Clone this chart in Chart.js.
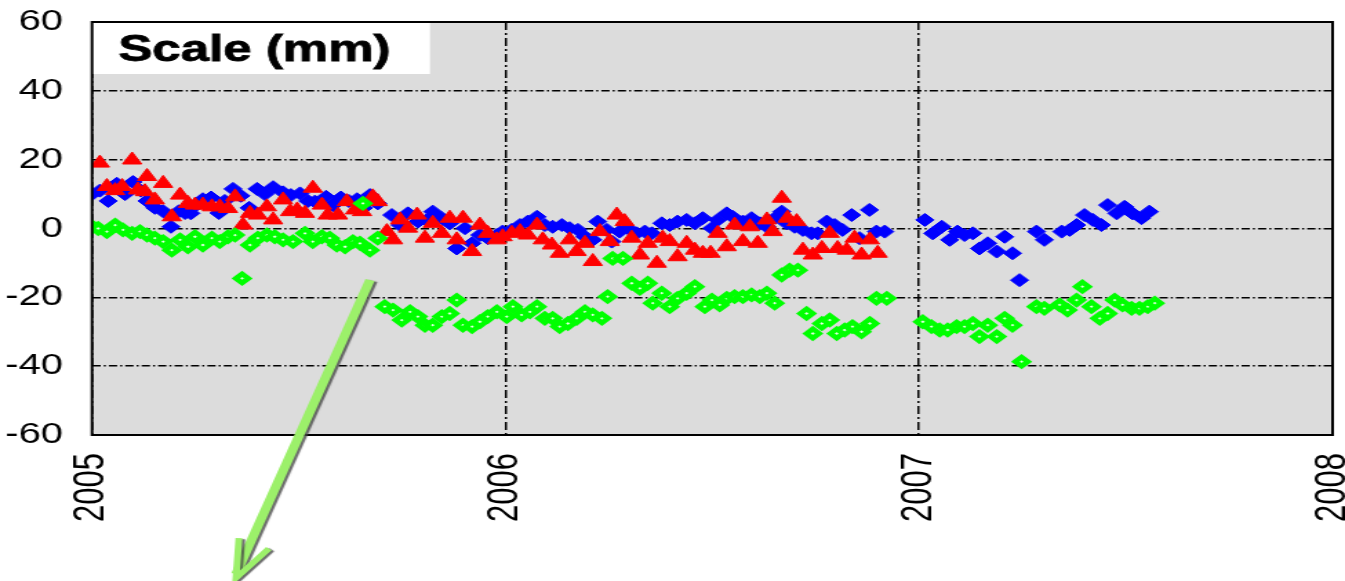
<!DOCTYPE html>
<html><head><meta charset="utf-8">
<script src="https://cdn.jsdelivr.net/npm/chart.js@4.4.1/dist/chart.umd.min.js"></script>
<style>
html,body{margin:0;padding:0;background:#fff;overflow:hidden;}
#wrap{width:1345px;height:581px;overflow:hidden;position:relative;}
#c{display:block;transform-origin:0 0;transform:scaleX(1.37949);}
</style></head><body>
<div id="wrap"><canvas id="c" width="975" height="581"></canvas></div>
<script>
// ---- data (dates as decimal years, values in mm) ----
const xTickYears = [2005, 2006, 2007, 2008];
const yTickValues = [-60, -40, -20, 0, 20, 40, 60];
const titleText = "Scale (mm)";

const blueDates = [
 2005.000,2005.019,2005.039,2005.060,2005.080,2005.099,2005.118,2005.133,2005.152,2005.172,
 2005.191,2005.210,2005.225,2005.239,2005.254,2005.268,2005.288,2005.307,2005.321,2005.341,
 2005.360,2005.380,2005.399,2005.418,2005.438,2005.462,2005.481,2005.503,2005.522,2005.539,
 2005.566,2005.583,2005.602,2005.621,2005.641,2005.657,2005.672,2005.691,2005.725,2005.745,
 2005.764,2005.788,2005.810,2005.824,2005.846,2005.865,2005.882,2005.902,2005.919,2005.938,
 2005.957,2005.979,2005.993,2006.015,2006.035,2006.054,2006.076,2006.095,2006.114,2006.136,
 2006.155,2006.175,2006.192,2006.211,2006.223,2006.245,2006.257,2006.276,2006.296,2006.317,
 2006.337,2006.354,2006.378,2006.397,2006.416,2006.438,2006.458,2006.477,2006.499,2006.513,
 2006.535,2006.549,2006.574,2006.595,2006.615,2006.632,2006.656,2006.668,2006.680,2006.699,
 2006.719,2006.740,2006.755,2006.777,2006.796,2006.815,2006.837,2006.856,2006.880,2006.897,
 2006.917,
 2007.014,2007.033,2007.055,2007.074,2007.093,2007.110,2007.130,2007.146,2007.166,2007.188,
 2007.207,2007.226,2007.243,2007.284,2007.303,2007.345,2007.364,2007.381,2007.400,2007.420,
 2007.441,2007.456,2007.478,2007.497,2007.516,2007.538,2007.557
];
const blueValues = [
 10,11,8,13,10,13.5,11,8,6,5,
 0.5,5,4.5,4.4,7,8.5,9,4.5,8,11.5,
 9.5,6,11.5,10,12,10.5,9.7,10.2,8,7.8,
 9.2,6.8,9,8,8.5,6,9.7,7.3,3.9,1.0,
 4.4,2.0,2.5,4.9,3.0,1.5,-5.8,0.1,-4.3,-1.9,
 -2.8,-1.9,-0.9,-0.4,1.0,2.0,3.4,1.0,0.5,1.0,
 0.1,-0.4,-2.4,-3.3,2.0,-0.4,-3.8,-0.9,0.1,-1.4,
 -0.9,-1.4,1.5,1.0,2.0,2.5,1.5,3.0,0.1,2.5,
 4.4,3.4,2.0,3.0,1.5,0.5,3.4,4.9,1.5,0.5,
 -0.4,-1.4,-1.4,2.0,1.0,-0.4,3.9,-2.8,5.4,-0.9,
 -0.9,
 2.5,-1.4,0.5,-3.3,-0.9,-1.9,-1.4,-5.8,-4.3,-6.7,
 -2.4,-7.2,-15,-0.9,-3.3,-0.9,-0.4,1.0,3.9,2.5,
 1.0,6.8,4.4,6.3,4.4,3.0,4.9
];

const redDates = [
 2005.019,2005.036,2005.056,2005.073,2005.097,2005.111,2005.128,2005.133,2005.152,2005.172,
 2005.193,2005.213,2005.232,2005.249,2005.268,2005.290,2005.309,2005.329,2005.346,2005.365,
 2005.382,2005.401,2005.423,2005.438,2005.462,2005.479,2005.496,2005.515,2005.534,2005.556,
 2005.570,2005.595,2005.616,2005.636,2005.653,2005.679,2005.691,2005.713,2005.728,2005.745,
 2005.764,2005.786,2005.805,2005.824,2005.846,2005.865,2005.882,2005.897,2005.919,2005.938,
 2005.957,2005.979,2005.993,2006.015,2006.035,2006.054,2006.076,2006.090,2006.112,2006.131,
 2006.155,2006.172,2006.192,2006.211,2006.228,2006.252,2006.269,2006.288,2006.305,2006.325,
 2006.344,2006.366,2006.380,2006.397,2006.416,2006.438,2006.458,2006.477,2006.496,2006.513,
 2006.535,2006.554,2006.574,2006.591,2006.610,2006.632,2006.646,2006.668,2006.682,2006.704,
 2006.719,2006.743,2006.765,2006.784,2006.803,2006.825,2006.844,2006.861,2006.881,2006.900
];
const redValues = [
 19.0,12.2,11,12.2,19.9,11.2,10.7,15.1,8.3,13.1,
 3.4,9.7,7.3,6.8,6.8,6.3,6.3,5.8,9.2,1.0,
 4.4,3.9,6.3,2.5,8.3,4.9,5.4,4.4,11.7,6.8,
 3.9,3.9,7.8,5.4,4.9,9.2,7.8,-0.9,-3.3,2.5,
 0.1,3.9,-2.8,1.5,-1.4,3.0,-3.3,3.0,-6.7,1.0,
 -1.4,-3.3,-2.4,-1.4,-0.9,-1.9,1.0,-3.3,-4.8,-7.2,
 -3.3,-6.7,-4.3,-9.6,-0.9,-3.8,3.9,2.0,-2.8,-7.7,
 -4.3,-10.1,-2.8,-3.8,-8.2,-4.3,-6.3,-7.2,-7.2,-1.4,
 -5.3,1.0,-3.8,0.5,-4.3,2.5,-0.9,8.8,3.0,2.0,
 -6.3,-7.7,-5.8,-1.4,-5.8,-6.3,-2.8,-7.7,-3.3,-7.2
];

const greenDates = [
 2005.000,2005.015,2005.036,2005.056,2005.075,2005.097,2005.116,2005.133,2005.152,2005.172,
 2005.193,2005.213,2005.232,2005.249,2005.268,2005.290,2005.309,2005.329,2005.346,2005.363,
 2005.382,2005.401,2005.423,2005.442,2005.462,2005.486,2005.515,2005.534,2005.556,2005.575,
 2005.592,2005.612,2005.631,2005.648,2005.655,2005.672,2005.691,2005.708,2005.728,2005.749,
 2005.769,2005.788,2005.805,2005.824,2005.846,2005.865,2005.882,2005.897,2005.919,2005.938,
 2005.957,2005.979,2006.003,2006.018,2006.039,2006.059,2006.076,2006.095,2006.114,2006.131,
 2006.151,2006.172,2006.192,2006.211,2006.233,2006.247,2006.259,2006.284,2006.305,2006.325,
 2006.344,2006.356,2006.378,2006.397,2006.416,2006.438,2006.458,2006.482,2006.499,2006.518,
 2006.535,2006.554,2006.574,2006.595,2006.615,2006.632,2006.651,2006.668,2006.687,2006.707,
 2006.728,2006.743,2006.765,2006.784,2006.801,2006.820,2006.839,2006.861,2006.881,2006.897,
 2006.922,
 2007.009,2007.030,2007.050,2007.069,2007.091,2007.110,2007.130,2007.146,2007.166,2007.188,
 2007.207,2007.226,2007.248,2007.284,2007.303,2007.340,2007.359,2007.381,2007.395,2007.417,
 2007.437,2007.456,2007.473,2007.492,2007.514,2007.533,2007.553,2007.570
];
const greenValues = [
 0.5,0.0,-0.9,1.0,-0.4,-1.4,-0.9,-1.9,-2.8,-3.8,
 -6.3,-3.3,-5.3,-2.4,-4.8,-2.8,-3.8,-2.4,-1.9,-14.5,
 -4.8,-2.8,-1.9,-2.4,-3.3,-3.8,-1.4,-3.8,-2.4,-2.8,
 -4.8,-5.3,-3.8,-4.3,7.3,-6.3,-2.8,-22.7,-23.7,-26.6,
 -24.2,-25.6,-28.1,-28.1,-25.6,-24.7,-20.8,-28.1,-28.5,-27.1,
 -25.6,-24.2,-25.6,-22.7,-25.1,-24.2,-22.7,-26.1,-26.1,-28.5,
 -27.6,-26.1,-24.2,-25.1,-26.1,-19.8,-8.7,-8.7,-15.9,-17.4,
 -15.9,-21.7,-18.8,-22.7,-20.3,-18.8,-16.9,-22.7,-20.8,-22.2,
 -20.3,-19.8,-19.8,-19.3,-19.8,-18.8,-21.7,-13.5,-12.1,-12.1,
 -24.7,-30.5,-27.6,-26.6,-30.5,-29.5,-28.5,-30.0,-27.6,-20.3,
 -20.3,
 -27.1,-28.5,-29.5,-29.5,-28.5,-28.5,-27.6,-31.4,-28.1,-31.4,
 -26.1,-28.1,-38.7,-22.7,-23.2,-22.2,-23.7,-20.8,-16.9,-22.7,
 -26.1,-24.7,-20.8,-22.2,-23.2,-23.2,-22.7,-21.7
];

const toPoints = (xs, ys) => xs.map((x, i) => ({ x: x, y: ys[i] }));

// ---- rendering ----
const STRETCH = 1345 / 975;
const FONT = '"Liberation Sans", Arial, Helvetica, sans-serif';

const decor = {
  id: 'decor',
  beforeDraw(chart) {
    const { ctx, chartArea: a } = chart;
    ctx.save();
    ctx.fillStyle = '#dcdcdc';
    ctx.fillRect(a.left, a.top, a.right - a.left, a.bottom - a.top);
    ctx.restore();
  },
  beforeDatasetsDraw(chart) {
    const { ctx, chartArea: a } = chart;
    ctx.save();
    ctx.fillStyle = '#ffffff';
    ctx.fillRect(a.left, a.top, 245, 52);
    ctx.fillStyle = '#000';
    ctx.font = 'bold 37px ' + FONT;
    ctx.textBaseline = 'alphabetic';
    ctx.lineWidth = 0.8;
    ctx.strokeStyle = '#000';
    ctx.fillText(titleText, a.left + 19, a.top + 39);
    ctx.strokeText(titleText, a.left + 19, a.top + 39);
    ctx.restore();
  },
  afterDraw(chart) {
    const { ctx, chartArea: a } = chart;
    ctx.save();
    ctx.strokeStyle = '#000';
    ctx.lineWidth = 2;
    ctx.strokeRect(a.left, a.top, a.right - a.left, a.bottom - a.top);
    ctx.restore();

    // green arrow annotation (reference-space coordinates mapped to canvas)
    const tail = [370, 280], tip = [236, 578];
    const dx = tail[0] - tip[0], dy = tail[1] - tip[1];
    const len = Math.hypot(dx, dy);
    const ux = dx / len, uy = dy / len;
    const arm = (deg, L) => {
      const r = deg * Math.PI / 180;
      const vx = ux * Math.cos(r) - uy * Math.sin(r);
      const vy = ux * Math.sin(r) + uy * Math.cos(r);
      return [tip[0] + vx * L, tip[1] + vy * L];
    };
    const m = p => [p[0] / STRETCH, p[1]];
    const l1 = m(arm(24, 44)), l2 = m(arm(-20, 40));
    const t = m(tip), s = m(tail);
    ctx.save();
    ctx.shadowColor = 'rgba(70,70,70,0.8)';
    ctx.shadowOffsetX = 2;
    ctx.shadowOffsetY = 1;
    ctx.shadowBlur = 1;
    ctx.strokeStyle = '#9cf06a';
    ctx.lineWidth = 7;
    ctx.lineCap = 'butt';
    ctx.beginPath();
    ctx.moveTo(s[0], s[1]);
    ctx.lineTo(t[0], t[1] - 4);
    ctx.stroke();
    ctx.lineWidth = 5;
    ctx.lineJoin = 'miter';
    ctx.beginPath();
    ctx.moveTo(l1[0], l1[1]);
    ctx.lineTo(t[0], t[1]);
    ctx.lineTo(l2[0], l2[1]);
    ctx.stroke();
    ctx.restore();
  }
};

new Chart(document.getElementById('c'), {
  type: 'scatter',
  data: {
    datasets: [
      { label: 'green', data: toPoints(greenDates, greenValues), pointStyle: 'rectRot',
        pointRadius: 4.5, borderWidth: 4.5, borderColor: '#00ff00', backgroundColor: '#e6ffe6' },
      { label: 'red', data: toPoints(redDates, redValues), pointStyle: 'triangle',
        pointRadius: 8, borderWidth: 1, borderColor: '#ff0000', backgroundColor: '#ff0000' },
      { label: 'blue', data: toPoints(blueDates, blueValues), pointStyle: 'rectRot',
        pointRadius: 6.5, borderWidth: 1, borderColor: '#0000ff', backgroundColor: '#0000ff' }
    ]
  },
  options: {
    responsive: false,
    devicePixelRatio: 1,
    animation: false,
    events: [],
    layout: { padding: { top: 22, right: 9, left: 0, bottom: 0 } },
    plugins: { legend: { display: false }, tooltip: { enabled: false } },
    scales: {
      x: {
        type: 'linear', min: 2005, max: 2008,
        afterBuildTicks(scale) { scale.ticks = xTickYears.map(v => ({ value: v })); },
        afterFit(scale) { scale.height = 146; scale.paddingLeft = 0; scale.paddingRight = 0; },
        ticks: { autoSkip: false, minRotation: 90, maxRotation: 90, padding: 18, color: '#000',
                 font: { family: FONT, size: 31 }, callback: v => String(v) },
        grid: { color: '#000', lineWidth: 1.5, drawTicks: false },
        border: { display: false, dash: [8, 3, 2, 3] }
      },
      y: {
        min: -60, max: 60,
        afterBuildTicks(scale) { scale.ticks = yTickValues.map(v => ({ value: v })); },
        afterFit(scale) { scale.width = 92 / STRETCH; scale.paddingTop = 0; scale.paddingBottom = 0; },
        ticks: { padding: 21, color: '#000', font: { family: FONT, size: 29 }, callback: v => String(v) },
        grid: { color: '#000', lineWidth: 1.5, drawTicks: false },
        border: { display: false, dash: [6, 2.2, 1.5, 2.2] }
      }
    }
  },
  plugins: [decor]
});
</script>
</body></html>
